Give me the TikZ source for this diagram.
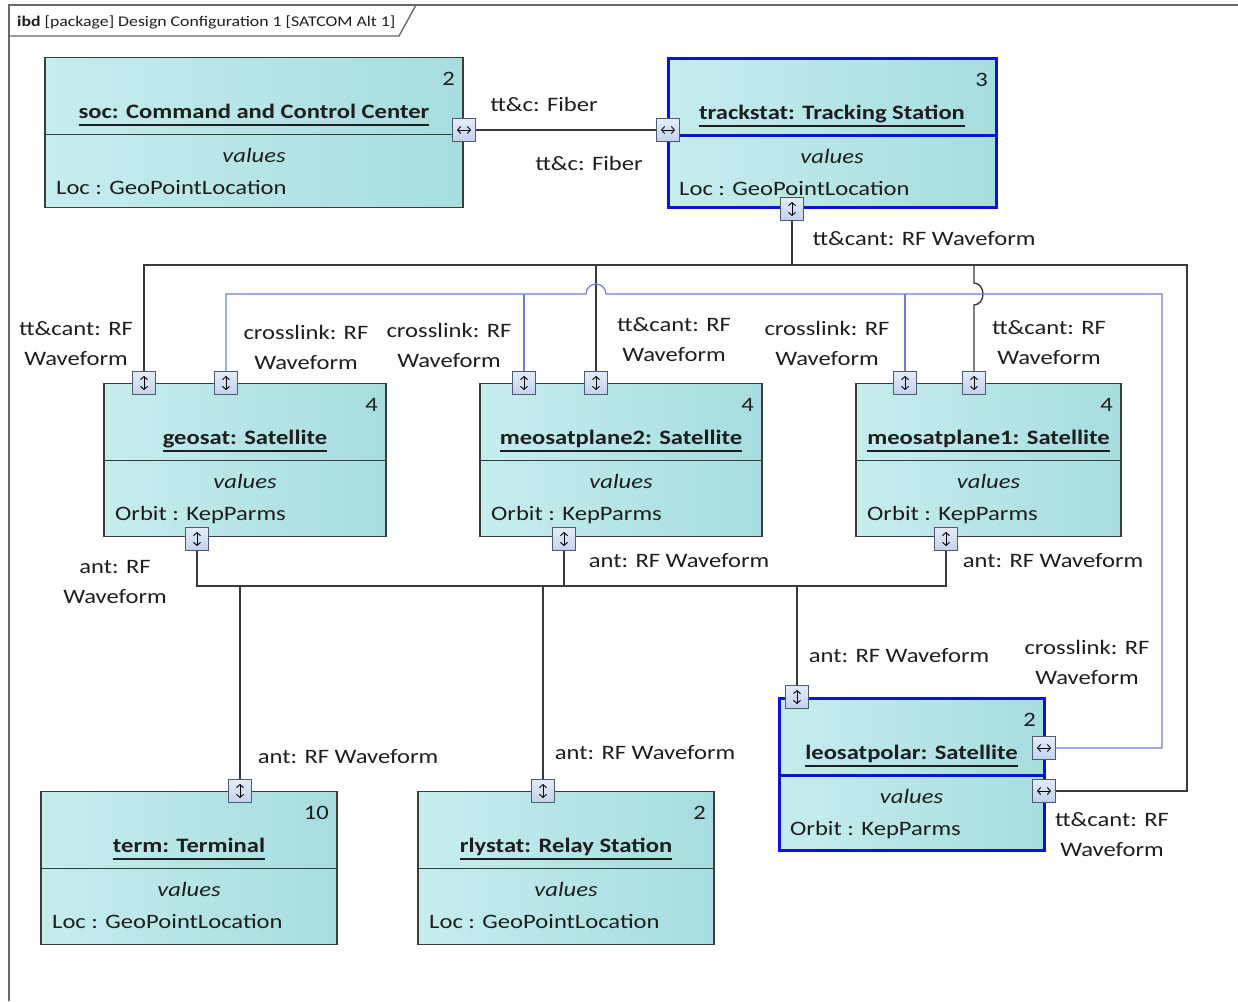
\documentclass[tikz,border=0pt]{standalone}
\usepackage{fontspec}
\setmainfont{Carlito}[FakeStretch=1.2]
\usetikzlibrary{arrows.meta,calc}

\definecolor{txt}{HTML}{1E1E1E}
\definecolor{edge}{HTML}{3C3C3C}
\definecolor{wire}{HTML}{3A3A3A}
\definecolor{framec}{HTML}{6A6A6A}
\definecolor{fillL}{HTML}{C6EDEE}
\definecolor{fillR}{HTML}{A6DDDF}
\definecolor{portT}{HTML}{E4ECFA}
\definecolor{portB}{HTML}{C2D2EE}
\definecolor{portE}{HTML}{4E5A6E}
\definecolor{xblue}{HTML}{6E7FD6}
\definecolor{selblue}{HTML}{0A14D2}

\newcommand\dfont{\fontsize{20.5}{30}\selectfont}
\newcommand\hdfont{\fontsize{14.8}{18}\selectfont}
\newcommand\nameul[1]{\setbox0\hbox{#1}\rlap{\rule[-7pt]{\wd0}{1.2pt}}\box0}

\tikzset{
  block/.style={draw=edge, line width=1.3, left color=fillL, right color=fillR,
    anchor=north west, inner sep=0, outer sep=0},
  block sep/.style={draw=edge, line width=1.3},
  selblock/.style={block, draw=selblue, line width=3},
  selblock sep/.style={draw=selblue, line width=3},
  mult/.style={anchor=base east, font=\dfont, inner sep=0, text=txt},
  pname/.style={anchor=base, font=\dfont\bfseries, inner sep=0, text=txt},
  comp/.style={anchor=base, font=\dfont\itshape, inner sep=0, text=txt},
  attr/.style={anchor=base west, font=\dfont, inner sep=0, text=txt},
  lbl/.style={font=\dfont, align=center, inner sep=0, text=txt},
  barb/.tip={Straight Barb[length=3pt,width=7pt]},
  port/.style={draw=portE, line width=1, top color=portT, bottom color=portB,
    minimum size=23, inner sep=0},
  hport/.style={port, path picture={\draw[line width=0.9, barb-barb, black]
    ([xshift=-7]path picture bounding box.center) --
    ([xshift=7]path picture bounding box.center);}},
  vport/.style={port, path picture={\draw[line width=0.9, barb-barb, black]
    ([yshift=-7]path picture bounding box.center) --
    ([yshift=7]path picture bounding box.center);}},
  conn/.style={draw=wire, line width=1.4},
  xlink/.style={draw=xblue, line width=1.2},
  frame/.style={draw=framec, line width=1.4},
}

% name, style, x, y, width, height, multiplicity, title, attribute
\newcommand\partblock[9]{%
  \node[#2, minimum width=#5, minimum height=#6] (#1) at (#3,#4) {};
  \draw[#2 sep] ([yshift=-77]#1.north west) -- ([yshift=-77]#1.north east);
  \node[mult] (#1-m) at ($(#1.north east)+(-8,28)$) {#7};
  \node[pname] (#1-n) at ($(#1.north)+(0,61)$) {\nameul{#8}};
  \node[comp] (#1-c) at ($(#1.north)+(0,105)$) {values};
  \node[attr] (#1-a) at ($(#1.north west)+(11,137)$) {#9};
}

\begin{document}
\begin{tikzpicture}[x=1pt,y=-1pt]
\useasboundingbox (0,0) rectangle (1238,1001);

% diagram frame and header tab
\draw[frame] (9,1001) -- (9,5) -- (1238,5);
\draw[frame] (9,36) -- (399,36) -- (416,5);
\node[anchor=base west, font=\hdfont, inner sep=0, text=txt] (hdr) at (17,26)
  {\textbf{ibd} [package] Design Configuration 1 [SATCOM Alt 1]};

% parts
\partblock{soc}{block}{45}{57.5}{418}{150}{2}{soc: Command and Control Center}{Loc : GeoPointLocation}
\partblock{ts}{selblock}{668}{58.5}{328}{149}{3}{trackstat: Tracking Station}{Loc : GeoPointLocation}
\partblock{geo}{block}{104}{383.5}{282}{153}{4}{geosat: Satellite}{Orbit : KepParms}
\partblock{m2}{block}{480}{383.5}{282}{153}{4}{meosatplane2: Satellite}{Orbit : KepParms}
\partblock{m1}{block}{856}{383.5}{265}{153}{4}{meosatplane1: Satellite}{Orbit : KepParms}
\partblock{leo}{selblock}{779}{698.5}{265}{152}{2}{leosatpolar: Satellite}{Orbit : KepParms}
\partblock{term}{block}{41}{791.5}{296}{153}{10}{term: Terminal}{Loc : GeoPointLocation}
\partblock{rel}{block}{418}{791.5}{296}{153}{2}{rlystat: Relay Station}{Loc : GeoPointLocation}

% ports
\node[hport] (socP) at (464,130) {};
\node[hport] (tsL)  at (668,130) {};
\node[vport] (tsB)  at (792,209) {};
\node[vport] (geoT) at (144,383) {};
\node[vport] (geoX) at (226,383) {};
\node[vport] (geoB) at (197,539) {};
\node[vport] (m2X)  at (524,383) {};
\node[vport] (m2T)  at (596,383) {};
\node[vport] (m2B)  at (564,539) {};
\node[vport] (m1X)  at (905,383) {};
\node[vport] (m1T)  at (974,383) {};
\node[vport] (m1B)  at (946,539) {};
\node[vport] (leoA) at (797,697) {};
\node[hport] (leoX) at (1044,748) {};
\node[hport] (leoT) at (1044,791) {};
\node[vport] (termP) at (240,791) {};
\node[vport] (relP)  at (543,791) {};

% bus levels and risers
\coordinate (yT) at (0,265);
\coordinate (yX) at (0,294);
\coordinate (yB) at (0,586);
\coordinate (xR) at (1187,0);
\coordinate (xXR) at (1162,0);

% fiber link
\draw[conn] (socP.east) -- (tsL.west);

% tt&cant links
\draw[conn] (geoT.north) |- (xR |- yT) -- (xR |- leoT) -- (leoT.east);
\draw[conn] (tsB.south) -- (tsB |- yT);
\draw[conn] (m2T.north) -- (m2T |- yT);
\draw[conn] (m1T |- yT) -- ($(m1T |- yX)+(0,-11)$)
  arc[start angle=-90, end angle=90, x radius=9, y radius=11] -- (m1T.north);

% crosslinks
\draw[xlink] (geoX.north) |- ($(m2T |- yX)+(-10,0)$)
  arc[start angle=180, end angle=360, radius=10] -- (xXR |- yX) |- (leoX.east);
\draw[xlink] (m2X.north) -- (m2X |- yX);
\draw[xlink] (m1X.north) -- (m1X |- yX);

% antenna links
\draw[conn] (geoB.south) |- (m1B |- yB) -- (m1B.south);
\draw[conn] (m2B.south) -- (m2B |- yB);
\draw[conn] (termP.north) -- (termP |- yB);
\draw[conn] (relP.north) -- (relP |- yB);
\draw[conn] (leoA.north) -- (leoA |- yB);

% connector labels
\node[lbl] (l1)  at (544,104) {tt\&c: Fiber};
\node[lbl] (l2)  at (589,163) {tt\&c: Fiber};
\node[lbl] (l3)  at (924,239) {tt\&cant: RF Waveform};
\node[lbl] (l4)  at (76,344)  {tt\&cant: RF\\Waveform};
\node[lbl] (l5)  at (306,347) {crosslink: RF\\Waveform};
\node[lbl] (l6)  at (449,345) {crosslink: RF\\Waveform};
\node[lbl] (l7)  at (674,340) {tt\&cant: RF\\Waveform};
\node[lbl] (l8)  at (827,343) {crosslink: RF\\Waveform};
\node[lbl] (l9)  at (1049,343) {tt\&cant: RF\\Waveform};
\node[lbl] (l10) at (115,582) {ant: RF\\Waveform};
\node[lbl] (l11) at (679,561) {ant: RF Waveform};
\node[lbl] (l12) at (1053,561) {ant: RF Waveform};
\node[lbl] (l13) at (899,656) {ant: RF Waveform};
\node[lbl] (l14) at (1087,662) {crosslink: RF\\Waveform};
\node[lbl] (l15) at (348,757) {ant: RF Waveform};
\node[lbl] (l16) at (645,753) {ant: RF Waveform};
\node[lbl] (l17) at (1112,835) {tt\&cant: RF\\Waveform};
\end{tikzpicture}
\end{document}
